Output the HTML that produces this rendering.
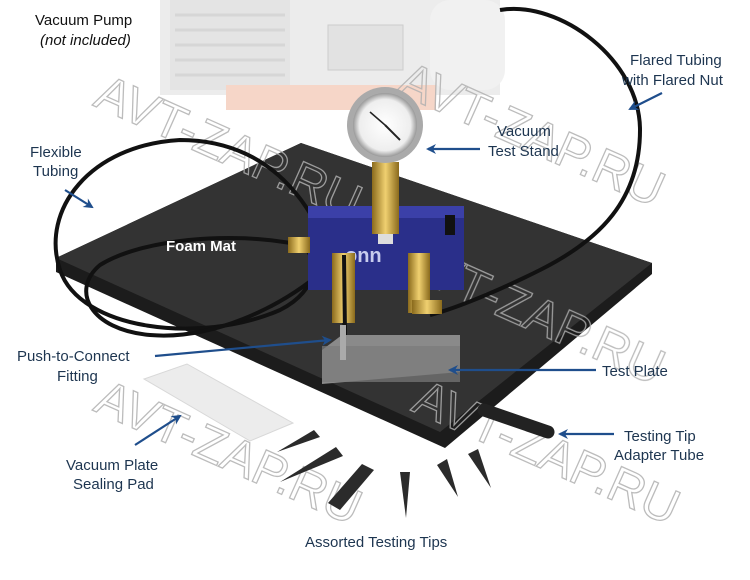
<!DOCTYPE html>
<html><head><meta charset="utf-8"><style>
html,body{margin:0;padding:0;background:#fff;}
body{width:750px;height:580px;overflow:hidden;position:relative;font-family:"Liberation Sans",sans-serif;}
svg{position:absolute;left:0;top:0;}
.l{font-family:"Liberation Sans",sans-serif;font-size:15px;fill:#1d3550;}
.wm{font-family:"Liberation Sans",sans-serif;font-size:50px;fill:none;stroke:#b0b0b0;stroke-width:1.3;opacity:.85;}
</style></head><body>
<svg width="750" height="580" viewBox="0 0 750 580">
<defs>
<marker id="ar" markerWidth="10" markerHeight="10" refX="8" refY="5" orient="auto" markerUnits="userSpaceOnUse"><path d="M0,0 L10,5 L0,10 L3,5 Z" fill="#1f4e8c"/></marker>
<radialGradient id="gg" cx="50%" cy="50%" r="50%"><stop offset="0" stop-color="#fff"/><stop offset="0.8" stop-color="#eee"/><stop offset="1" stop-color="#999"/></radialGradient>
<linearGradient id="br" x1="0" x2="1"><stop offset="0" stop-color="#8a6a1c"/><stop offset=".5" stop-color="#f0d070"/><stop offset="1" stop-color="#8a6a1c"/></linearGradient>
</defs>
<!-- pump -->
<rect x="160" y="0" width="340" height="95" fill="#ececec"/>
<rect x="170" y="0" width="120" height="90" fill="#e4e4e4"/>
<g stroke="#d6d6d6" stroke-width="3"><line x1="175" y1="15" x2="285" y2="15"/><line x1="175" y1="30" x2="285" y2="30"/><line x1="175" y1="45" x2="285" y2="45"/><line x1="175" y1="60" x2="285" y2="60"/><line x1="175" y1="75" x2="285" y2="75"/></g>
<rect x="328" y="25" width="75" height="45" fill="#e2e2e2" stroke="#ccc"/>
<rect x="430" y="0" width="75" height="90" rx="20" fill="#f1f1f1"/>
<rect x="226" y="85" width="210" height="25" fill="#f6d6c8"/>
<!-- mat -->
<polygon points="56,258 301,143 652,263 652,274 445,448 56,272" fill="#1c1c1c"/>
<polygon points="56,258 301,143 652,263 440,432" fill="#333"/>
<!-- watermarks -->
<g class="wm">
<text x="92" y="105" transform="rotate(24 92 105)">AVT-ZAP.RU</text>
<text x="395" y="92" transform="rotate(24 395 92)">AVT-ZAP.RU</text>
<text x="395" y="270" transform="rotate(24 395 270)">AVT-ZAP.RU</text>
<text x="92" y="410" transform="rotate(24 92 410)">AVT-ZAP.RU</text>
<text x="410" y="410" transform="rotate(24 410 410)">AVT-ZAP.RU</text>
</g>
<!-- tubing -->
<g fill="none" stroke="#111" stroke-width="4">
<path d="M345,330 C335,220 280,140 180,140 C90,145 40,210 60,270 C80,330 200,345 280,310 C320,290 320,255 300,245"/>
<path d="M300,245 C230,230 140,240 100,265 C70,290 90,330 150,335 C210,340 280,310 330,265"/>
<path d="M500,10 C560,0 640,60 640,130 C640,200 600,240 540,270 C490,295 450,310 430,315"/>
</g>
<!-- gauge stand -->
<rect x="308" y="206" width="156" height="84" fill="#2a2f8a"/>
<rect x="308" y="206" width="156" height="12" fill="#3b40a8"/>
<text x="345" y="262" font-family="Liberation Sans" font-weight="bold" font-size="20" fill="#c8ccee">onn</text>
<rect x="372" y="162" width="27" height="72" fill="url(#br)"/>
<rect x="378" y="234" width="15" height="10" fill="#ddd"/>
<circle cx="385" cy="125" r="38" fill="#aaa"/>
<circle cx="385" cy="125" r="32" fill="url(#gg)"/>
<line x1="385" y1="125" x2="400" y2="140" stroke="#222" stroke-width="2"/>
<line x1="385" y1="125" x2="370" y2="112" stroke="#222" stroke-width="1.5"/>
<!-- brass fittings -->
<rect x="332" y="253" width="23" height="70" fill="url(#br)"/>
<rect x="408" y="253" width="22" height="60" fill="url(#br)"/>
<rect x="412" y="300" width="30" height="14" fill="url(#br)"/>
<rect x="288" y="237" width="22" height="16" fill="url(#br)"/>
<rect x="445" y="215" width="10" height="20" fill="#111"/>
<line x1="344" y1="255" x2="345" y2="335" stroke="#111" stroke-width="4"/>
<!-- test plate -->
<polygon points="322,350 342,335 460,335 460,372 322,384" fill="#8a8a8a"/>
<rect x="322" y="346" width="138" height="36" fill="#7a7a7a" opacity=".7"/>
<rect x="340" y="325" width="6" height="35" fill="#aaa"/>
<!-- sealing pad -->
<polygon points="144,379 187,364 293,423 250,441" fill="#ececec" stroke="#d8d8d8"/>
<!-- adapter tube -->
<line x1="484" y1="410" x2="548" y2="432" stroke="#222" stroke-width="13" stroke-linecap="round"/>
<!-- tips -->
<g fill="#2b2b2b">
<polygon points="277,452 314,430 320,437"/>
<polygon points="280,482 336,447 343,456"/>
<polygon points="328,503 362,464 374,470 340,510"/>
<polygon points="400,472 410,472 406,518"/>
<polygon points="437,465 447,459 458,497"/>
<polygon points="468,454 478,449 491,488"/>
</g>
<!-- labels -->
<text class="l" x="35" y="25" style="fill:#111">Vacuum Pump</text>
<text class="l" x="40" y="45" font-style="italic" style="fill:#111">(not included)</text>
<text class="l" x="630" y="65">Flared Tubing</text>
<text class="l" x="622" y="85">with Flared Nut</text>
<text class="l" x="497" y="136">Vacuum</text>
<text class="l" x="488" y="156">Test Stand</text>
<text class="l" x="30" y="157">Flexible</text>
<text class="l" x="33" y="176">Tubing</text>
<text x="166" y="251" font-family="Liberation Sans" font-weight="bold" font-size="15" fill="#fff">Foam Mat</text>
<text class="l" x="17" y="361">Push-to-Connect</text>
<text class="l" x="57" y="381">Fitting</text>
<text class="l" x="602" y="376">Test Plate</text>
<text class="l" x="624" y="441">Testing Tip</text>
<text class="l" x="614" y="460">Adapter Tube</text>
<text class="l" x="66" y="470">Vacuum Plate</text>
<text class="l" x="73" y="489">Sealing Pad</text>
<text class="l" x="305" y="547">Assorted Testing Tips</text>
<!-- arrows -->
<g stroke="#1f4e8c" stroke-width="2.2" fill="none" marker-end="url(#ar)">
<line x1="662" y1="93" x2="630" y2="109"/>
<line x1="480" y1="149" x2="428" y2="149"/>
<line x1="65" y1="190" x2="92" y2="207"/>
<line x1="155" y1="356" x2="330" y2="340"/>
<line x1="596" y1="370" x2="450" y2="370"/>
<line x1="614" y1="434" x2="560" y2="434"/>
<line x1="135" y1="445" x2="180" y2="416"/>
</g>
</svg>
</body></html>
